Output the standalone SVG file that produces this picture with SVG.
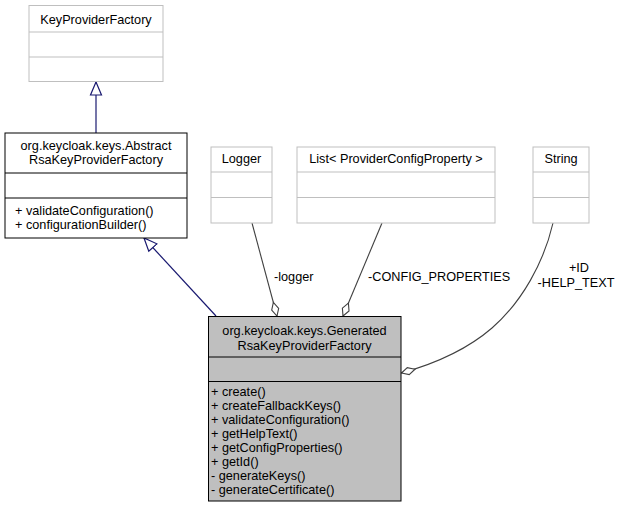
<svg xmlns="http://www.w3.org/2000/svg" width="620" height="516" viewBox="0 0 620 516">
<style>
text{font-family:"Liberation Sans",Arial,sans-serif;font-size:12.7px;fill:#000}
.c{text-anchor:middle}
.grey rect{fill:#fff;stroke:#bfbfbf}
.grey line{stroke:#bfbfbf}
.plain rect{fill:#fff;stroke:#000}
.plain line{stroke:#000}
.main rect{fill:#bfbfbf;stroke:#000}
.main line{stroke:#000}
.inh{fill:none;stroke:#191970;stroke-width:1.2;marker-end:url(#tri)}
.agg{fill:none;stroke:#404040;stroke-width:1.1;marker-end:url(#dia)}
</style>
<defs>
<marker id="tri" viewBox="-14 -7 15 14" refX="0" refY="0" markerWidth="15" markerHeight="14" markerUnits="userSpaceOnUse" orient="auto">
<path d="M0,0 L-13,-5.5 L-13,5.5 Z" fill="#fff" stroke="#191970" stroke-width="1.2"/>
</marker>
<marker id="dia" viewBox="-16 -6 17 12" refX="0" refY="0" markerWidth="17" markerHeight="12" markerUnits="userSpaceOnUse" orient="auto">
<path d="M0,0 L-7,-3.6 L-14,0 L-7,3.6 Z" fill="#fff" stroke="#404040" stroke-width="1.1"/>
</marker>
</defs>
<g id="edges">
<path class="inh" d="M96,133 L96,82"/>
<path class="inh" d="M216,316 L144,238"/>
<path class="agg" d="M252,223 L277,316"/>
<path class="agg" d="M382,223 L343,316"/>
<path class="agg" d="M553,223 C544,262 522,302 492,328 C470,347 441,362 401.5,373"/>
<text x="274" y="281">-logger</text>
<text x="368" y="281">-CONFIG_PROPERTIES</text>
<text class="c" x="579" y="272">+ID</text>
<text class="c" x="576" y="287">-HELP_TEXT</text>
</g>
<g id="KeyProviderFactory" class="grey">
<rect x="29" y="5.5" width="134" height="76"/>
<line x1="29" y1="32" x2="163" y2="32"/>
<line x1="29" y1="57" x2="163" y2="57"/>
<text class="c" x="96" y="24">KeyProviderFactory</text>
</g>
<g id="AbstractRsaKeyProviderFactory" class="plain">
<rect x="5" y="133" width="182" height="105"/>
<line x1="5" y1="173" x2="187" y2="173"/>
<line x1="5" y1="198" x2="187" y2="198"/>
<text class="c" x="96" y="149.5">org.keycloak.keys.Abstract</text>
<text class="c" x="96" y="164">RsaKeyProviderFactory</text>
<text x="15" y="214.5">+ validateConfiguration()</text>
<text x="15" y="228.5">+ configurationBuilder()</text>
</g>
<g id="Logger" class="grey">
<rect x="211" y="147" width="61" height="76"/>
<line x1="211" y1="172" x2="272" y2="172"/>
<line x1="211" y1="197.5" x2="272" y2="197.5"/>
<text class="c" x="241.5" y="163">Logger</text>
</g>
<g id="ListProviderConfigProperty" class="grey">
<rect x="297" y="147" width="198" height="76"/>
<line x1="297" y1="172" x2="495" y2="172"/>
<line x1="297" y1="197.5" x2="495" y2="197.5"/>
<text class="c" x="396" y="163">List&lt; ProviderConfigProperty &gt;</text>
</g>
<g id="String" class="grey">
<rect x="533" y="147" width="56" height="76"/>
<line x1="533" y1="172" x2="589" y2="172"/>
<line x1="533" y1="197.5" x2="589" y2="197.5"/>
<text class="c" x="561" y="163">String</text>
</g>
<g id="GeneratedRsaKeyProviderFactory" class="main">
<rect x="208.5" y="316.5" width="192.5" height="184.5"/>
<line x1="208.5" y1="357" x2="401" y2="357"/>
<line x1="208.5" y1="381.5" x2="401" y2="381.5"/>
<text class="c" x="304.5" y="335">org.keycloak.keys.Generated</text>
<text class="c" x="304.5" y="349.5">RsaKeyProviderFactory</text>
<text x="211" y="396">+ create()</text>
<text x="211" y="410">+ createFallbackKeys()</text>
<text x="211" y="424">+ validateConfiguration()</text>
<text x="211" y="438">+ getHelpText()</text>
<text x="211" y="452">+ getConfigProperties()</text>
<text x="211" y="466">+ getId()</text>
<text x="211" y="480">- generateKeys()</text>
<text x="211" y="494">- generateCertificate()</text>
</g>
</svg>
